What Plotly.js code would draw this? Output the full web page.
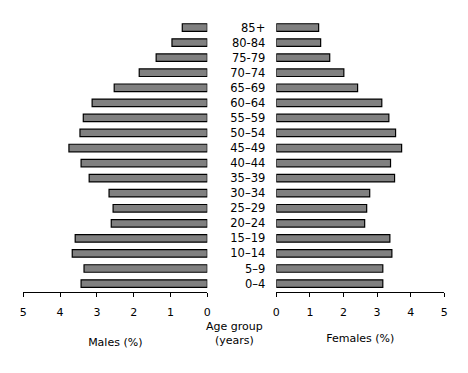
<!DOCTYPE html>
<html>
<head>
<meta charset="utf-8">
<script src="https://cdn.plot.ly/plotly-3.0.1.min.js"></script>
<style>html,body{margin:0;padding:0;background:#fff;}#chart{width:468px;height:373px;}</style>
</head>
<body>
<div id="chart"></div>
<script>
// Age groups, bottom to top
const ageGroups = ["0–4","5–9","10–14","15–19","20–24","25–29","30–34","35–39","40–44","45–49","50–54","55–59","60–64","65–69","70–74","75-79","80-84","85+"];
// Percent of population
const males   = [3.43,3.35,3.67,3.59,2.61,2.56,2.67,3.21,3.43,3.76,3.46,3.37,3.13,2.53,1.85,1.39,0.96,0.68];
const females = [3.17,3.17,3.44,3.38,2.63,2.69,2.78,3.52,3.40,3.73,3.55,3.35,3.14,2.42,2.01,1.59,1.32,1.26];
const xTicks = [0,1,2,3,4,5];

const barStyle = {color:'#808080', line:{color:'#000', width:1.2}};
const data = [
  {type:'bar', orientation:'h', x:males, y:ageGroups, xaxis:'x', yaxis:'y', width:0.5, marker:barStyle, hoverinfo:'none'},
  {type:'bar', orientation:'h', x:females, y:ageGroups, xaxis:'x2', yaxis:'y2', width:0.5, marker:barStyle, hoverinfo:'none'}
];
const tickFont = {family:'DejaVu Sans', size:11, color:'#000'};
const layout = {
  width:468, height:373,
  margin:{l:0, r:0, t:20, b:81},
  paper_bgcolor:'#fff', plot_bgcolor:'rgba(0,0,0,0)',
  showlegend:false,
  xaxis:{domain:[23.3/468, 207.3/468], range:[5,0], tickvals:xTicks, ticks:'outside', ticklen:4, tickcolor:'#000',
         showline:true, linecolor:'#000', linewidth:1, showgrid:false, zeroline:false, tickfont:tickFont, ticklabelstandoff:6,
         title:{text:'Males (%)', font:{family:'DejaVu Sans', size:11, color:'#000'}, standoff:20}, fixedrange:true},
  yaxis:{domain:[0,1], range:[-0.56,17.5], type:'category', showticklabels:false, ticks:'', showline:false, showgrid:false, zeroline:false},
  xaxis2:{domain:[276.3/468, 444.3/468], range:[0,5], tickvals:xTicks, ticks:'outside', ticklen:4, tickcolor:'#000',
         showline:true, linecolor:'#000', linewidth:1, showgrid:false, zeroline:false, tickfont:tickFont, ticklabelstandoff:6,
         title:{text:'Females (%)', font:{family:'DejaVu Sans', size:11, color:'#000'}, standoff:16}, fixedrange:true},
  yaxis2:{domain:[0,1], anchor:'x2', range:[-0.56,17.5], type:'category', showticklabels:true, side:'left', ticks:'',
          showline:false, showgrid:false, zeroline:false, ticklabelstandoff:10,
          tickfont:{family:'DejaVu Sans', size:11.5, color:'#000'}},
  annotations:[{text:'Age group<br>(years)', xref:'paper', yref:'paper', x:234/468, y:-42/272.3, xanchor:'center', yanchor:'middle',
                showarrow:false, font:{family:'DejaVu Sans', size:11, color:'#000'}}]
};
Plotly.newPlot('chart', data, layout, {displayModeBar:false, staticPlot:true});
</script>
</body>
</html>
